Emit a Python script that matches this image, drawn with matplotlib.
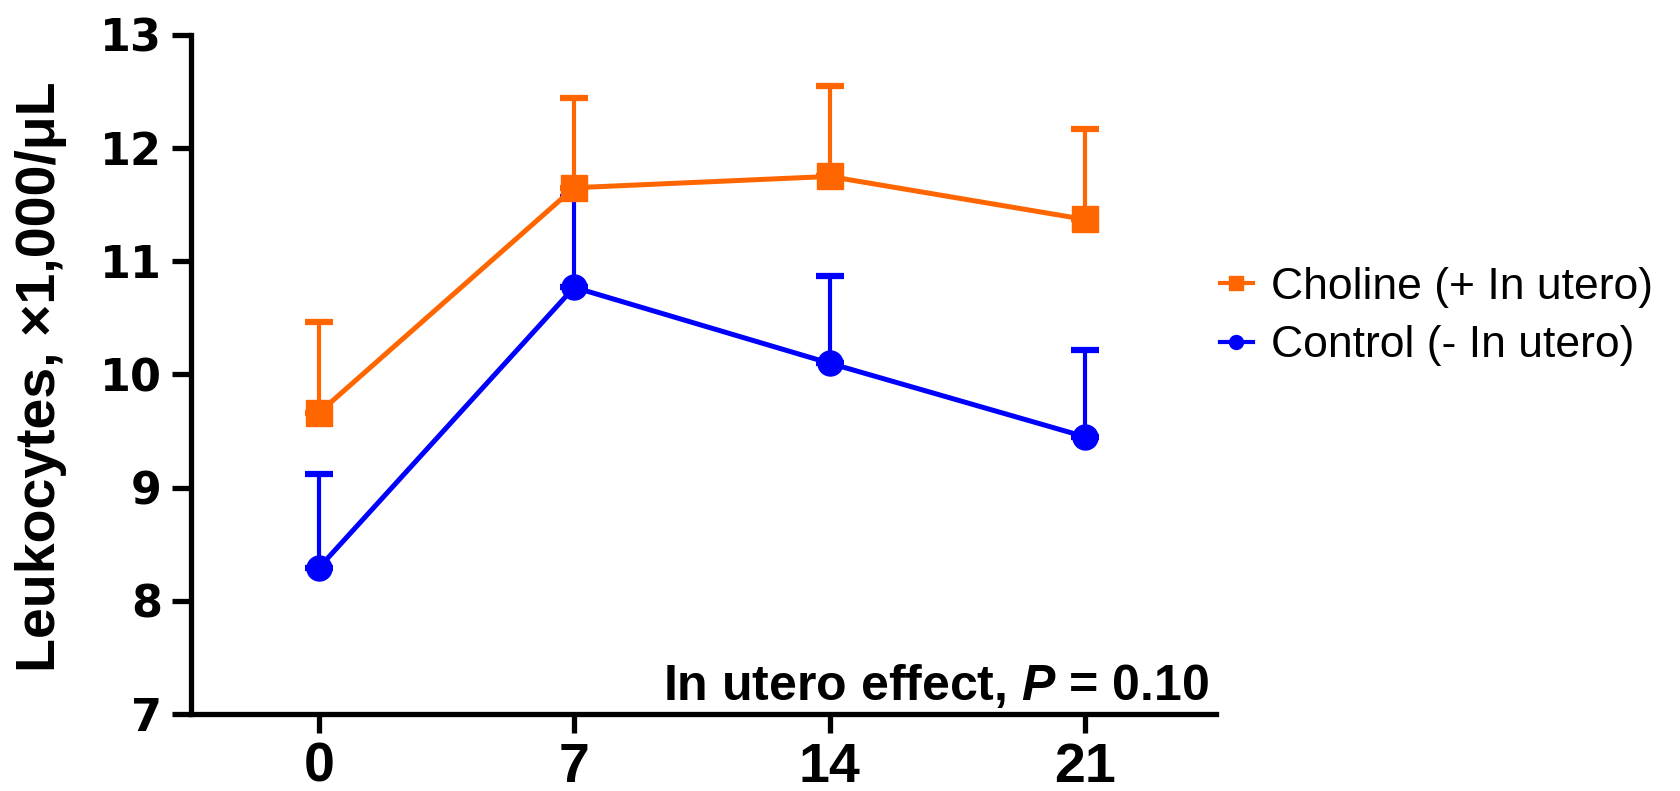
import matplotlib
matplotlib.use("Agg")
import matplotlib.pyplot as plt
from matplotlib.lines import Line2D
from matplotlib import font_manager as fm

days = [0, 7, 14, 21]
choline_mean = [9.66, 11.65, 11.75, 11.37]
choline_err = [0.80, 0.79, 0.80, 0.80]
control_mean = [8.29, 10.77, 10.10, 9.45]
control_err = [0.83, 0.80, 0.77, 0.77]
y_ticks = [7, 8, 9, 10, 11, 12, 13]
labels = ["Choline (+ In utero)", "Control (- In utero)"]

ORANGE = "#FF6600"
BLUE = "#0000FF"

names = {f.name for f in fm.fontManager.ttflist}
narrow = "Liberation Sans Narrow" if "Liberation Sans Narrow" in names else "Liberation Sans"

plt.rcParams["mathtext.fontset"] = "custom"
plt.rcParams["mathtext.it"] = "Liberation Sans:italic:bold"
plt.rcParams["mathtext.rm"] = "Liberation Sans:bold"

fig = plt.figure(figsize=(16.8, 7.91), dpi=100)
ax = fig.add_axes([0.1137, 0.0973, 0.724 - 0.1137, 0.9558 - 0.0973])

ax.errorbar(days, choline_mean, yerr=[[0] * 4, choline_err], color=ORANGE,
            marker="s", markersize=19, linewidth=3.6, elinewidth=3.0,
            capsize=10, capthick=4.5, zorder=3)
ax.errorbar(days, control_mean, yerr=[[0] * 4, control_err], color=BLUE,
            marker="o", markersize=18, linewidth=3.6, elinewidth=3.0,
            capsize=10, capthick=4.5, zorder=2)

ax.set_xlim(-3.5, 24.6)
ax.set_ylim(7, 13)
ax.set_xticks(days)
ax.set_yticks(y_ticks)
ax.set_xticklabels([str(d) for d in days], fontfamily=narrow, fontweight="bold", fontsize=40)
ax.set_yticklabels([str(t) for t in y_ticks], fontfamily="DejaVu Sans", fontweight="bold", fontsize=32)

for s in ["top", "right"]:
    ax.spines[s].set_visible(False)
for s in ["left", "bottom"]:
    ax.spines[s].set_linewidth(3.8)
ax.tick_params(axis="both", length=14, width=3.8, direction="out")
ax.tick_params(axis="y", pad=7)
ax.tick_params(axis="x", pad=6)

ax.set_ylabel("Leukocytes, \u00d71,000/\u03bcL", fontfamily="Liberation Sans",
              fontweight="bold", fontsize=40)
ax.yaxis.set_label_coords(-0.121, 0.497)

ax.text(0.993, 0.0214, r"In utero effect, $P$ = 0.10", transform=ax.transAxes,
        ha="right", va="baseline", fontfamily="Liberation Sans", fontweight="bold",
        fontsize=36)

handles = [
    Line2D([0], [0], color=ORANGE, marker="s", markersize=10, linewidth=3),
    Line2D([0], [0], color=BLUE, marker="o", markersize=10, linewidth=3),
]
fig.legend(handles, labels, loc="center left", bbox_to_anchor=(0.726, 0.60),
           frameon=False, prop={"family": "Liberation Sans", "size": 32},
           handlelength=0.75, handletextpad=0.4, labelspacing=0.4, borderpad=0,
           borderaxespad=0)

fig.savefig("out.png", dpi=100)
